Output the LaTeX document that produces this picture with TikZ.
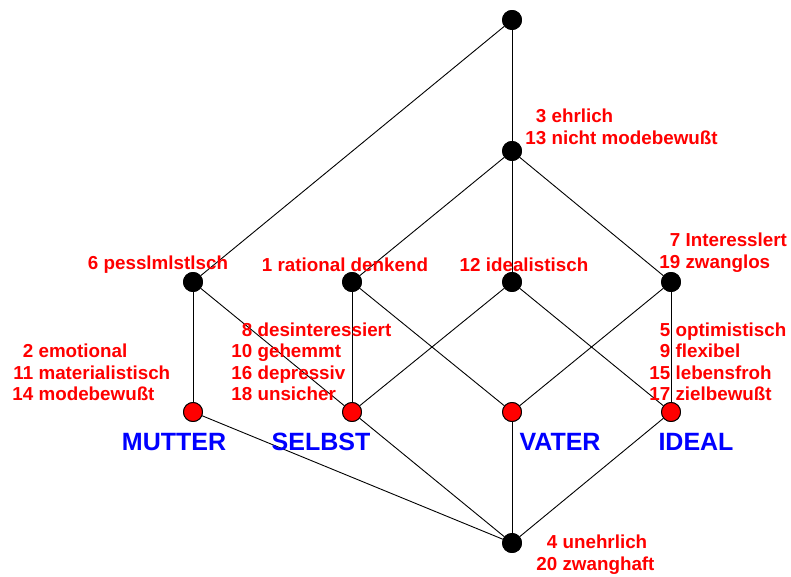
\documentclass[tikz,border=0pt]{standalone}
\usepackage{fontspec}
\setmainfont{Liberation Sans}
\usepackage{xcolor}
\definecolor{attrRed}{HTML}{FF0000}
\definecolor{objBlue}{HTML}{0000FF}
\usepackage{tikz}

\tikzset{
  concept/.style={circle, draw=black, fill=black, minimum size=19pt, inner sep=0pt},
  object/.style={concept, fill=attrRed},
  attr/.style={text=attrRed, font=\bfseries\fontsize{18.8}{21.5}\selectfont, inner sep=0pt},
  objlab/.style={text=objBlue, font=\bfseries\fontsize{25}{28}\selectfont, inner sep=0pt},
}
% numbers right-aligned, words left-aligned
\newcommand{\attrlist}[1]{\begin{tabular}{@{}r@{ }l@{}}#1\end{tabular}}

\begin{document}
\begin{tikzpicture}[x=1pt, y=-1pt, line width=0.9pt]
  \useasboundingbox (0,0) rectangle (791,577);
  % ------- lattice: top, second level, attribute row, objects, bottom -------
  \node[concept] (top) at (512,20) {};
  \node[concept] (ehr) at (512,151) {};
  \foreach \n/\x in {pes/193, rat/352, ide/512, int/671}
    \node[concept] (\n) at (\x,282) {};
  \foreach \n/\x in {mutter/193, selbst/352, vater/512, ideal/671}
    \node[object] (\n) at (\x,412) {};
  \node[concept] (bot) at (512,543) {};

  % ------- edges -------
  \draw (top) -- (pes);
  \draw (top) -- (ehr);
  \foreach \n in {rat, ide, int}
    \draw (ehr) -- (\n);
  \draw (pes) -- (mutter);
  \draw (pes) -- (selbst);
  \draw (rat) -- (selbst);
  \draw (rat) -- (vater);
  \draw (ide) -- (selbst);
  \draw (ide) -- (ideal);
  \draw (int) -- (vater);
  \draw (int) -- (ideal);
  \foreach \n in {mutter, selbst, vater, ideal}
    \draw (\n) -- (bot);
  % redraw the circles over the line ends
  \foreach \n in {top, ehr, pes, rat, ide, int, bot}
    \node[concept] at (\n) {};
  \foreach \n in {mutter, selbst, vater, ideal}
    \node[object] at (\n) {};

  % ------- attribute labels -------
  \node[attr, anchor=west] (lEhr) at (525,129) {\attrlist{3&ehrlich\\13&nicht modebewußt}};
  \node[attr] (lPes) at (158,265) {6 pesslmlstlsch};
  \node[attr] (lRat) at (345,265) {1 rational denkend};
  \node[attr] (lIde) at (524,265) {12 idealistisch};
  \node[attr, anchor=west] (lInt) at (659,253) {\attrlist{7&Interesslert\\19&zwanglos}};
  \node[attr, anchor=west] (lMut) at (12,375)
    {\attrlist{2&emotional\\11&materialistisch\\14&modebewußt}};
  \node[attr, anchor=west] (lSel) at (231,364)
    {\attrlist{8&desinteressiert\\10&gehemmt\\16&depressiv\\18&unsicher}};
  \node[attr, anchor=west] (lIdl) at (649,364)
    {\attrlist{5&optimistisch\\9&flexibel\\15&lebensfroh\\17&zielbewußt}};
  \node[attr, anchor=west] (lBot) at (536,555) {\attrlist{4&unehrlich\\20&zwanghaft}};

  % ------- object labels -------
  \foreach \n/\x/\lab in {oMut/174/MUTTER, oSel/321/SELBST, oVat/560/VATER, oIdl/696/IDEAL}
    \node[objlab] (\n) at (\x,442) {\lab};
\end{tikzpicture}
\end{document}
